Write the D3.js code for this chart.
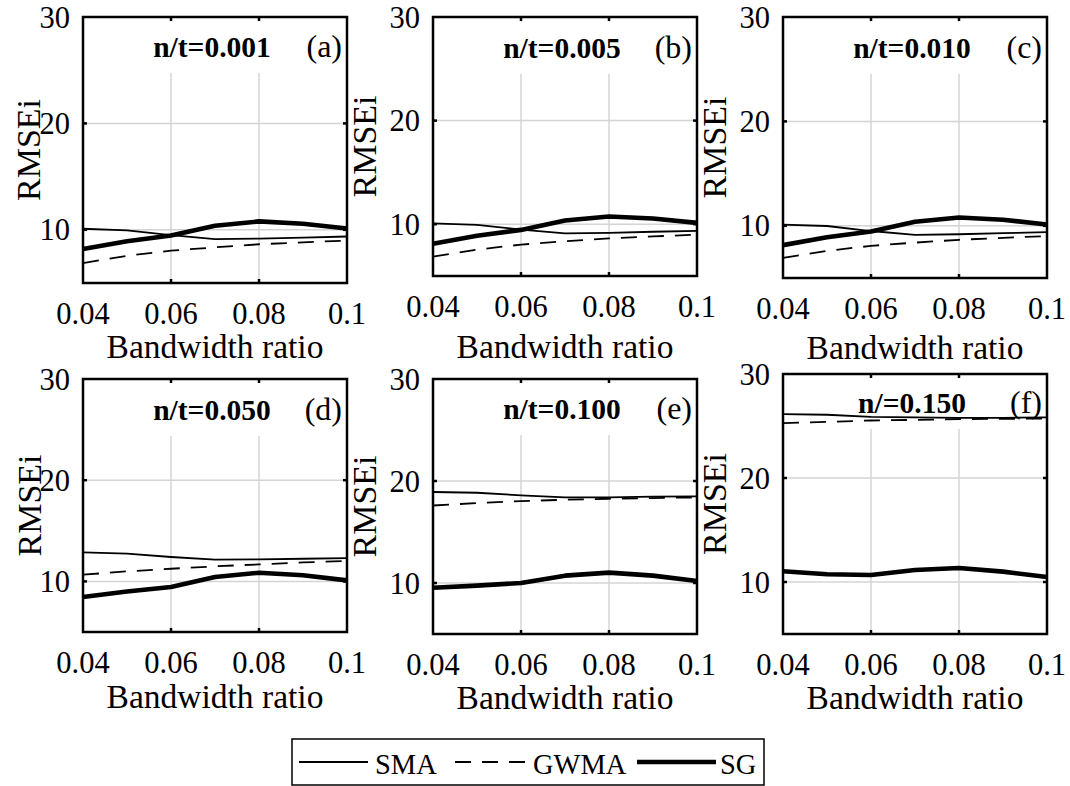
<!DOCTYPE html>
<html>
<head>
<meta charset="utf-8">
<script src="https://cdn.jsdelivr.net/npm/d3@7"></script>
<style>
  html, body { margin: 0; padding: 0; background: #fff; }
  svg { display: block; }
</style>
</head>
<body>
<svg id="chart" width="1070" height="786"></svg>
<script>
// Bandwidth ratios evaluated (x axis)
const bandwidth = [0.04, 0.05, 0.06, 0.07, 0.08, 0.09, 0.10];

// Panel captions
const noiseTitles = ["n/t=0.001", "n/t=0.005", "n/t=0.010", "n/t=0.050", "n/t=0.100", "n/=0.150"];
const panelTags = ["(a)", "(b)", "(c)", "(d)", "(e)", "(f)"];

// RMSEi per panel, one row per panel
const smaValues = [
  [10.10, 9.95, 9.50, 9.12, 9.18, 9.27, 9.37],
  [10.08, 9.93, 9.48, 9.12, 9.17, 9.27, 9.36],
  [10.12, 9.98, 9.50, 9.14, 9.19, 9.29, 9.40],
  [12.87, 12.74, 12.41, 12.15, 12.18, 12.24, 12.30],
  [18.92, 18.85, 18.59, 18.39, 18.39, 18.46, 18.49],
  [26.14, 26.08, 25.88, 25.82, 25.79, 25.79, 25.82]
];
const gwmaValues = [
  [6.87, 7.56, 8.04, 8.35, 8.64, 8.82, 8.99],
  [6.87, 7.55, 8.03, 8.35, 8.63, 8.82, 8.99],
  [6.92, 7.60, 8.08, 8.39, 8.66, 8.85, 9.02],
  [10.66, 10.99, 11.25, 11.49, 11.68, 11.88, 12.01],
  [17.60, 17.84, 18.03, 18.16, 18.26, 18.33, 18.39],
  [25.27, 25.40, 25.53, 25.59, 25.66, 25.69, 25.72]
];
const sgValues = [
  [8.20, 8.92, 9.46, 10.38, 10.79, 10.57, 10.12],
  [8.12, 8.88, 9.45, 10.35, 10.74, 10.55, 10.13],
  [8.15, 8.90, 9.45, 10.38, 10.80, 10.58, 10.12],
  [8.45, 9.00, 9.44, 10.43, 10.86, 10.60, 10.10],
  [9.54, 9.74, 10.00, 10.72, 11.02, 10.72, 10.20],
  [11.03, 10.74, 10.68, 11.16, 11.35, 11.00, 10.48]
];

// Axis ticks
const xTicks = [0.04, 0.06, 0.08, 0.1];
const xTickLabels = ["0.04", "0.06", "0.08", "0.1"];
const yTicks = [10, 20, 30];
const yTickLabels = ["10", "20", "30"];
const xDomain = [0.04, 0.1];
const yDomain = [5, 30];

// Series legend
const seriesNames = ["SMA", "GWMA", "SG"];

// Panel boxes (pixel layout)
const panels = [
  { x0: 83,  y0: 17,  x1: 347,  y1: 283, ylabX: 40,  xlabY: 358, titleDy: 40 },
  { x0: 433, y0: 17,  x1: 697,  y1: 276, ylabX: 376, xlabY: 358, titleDy: 41 },
  { x0: 783, y0: 17,  x1: 1047, y1: 278, ylabX: 726, xlabY: 359, titleDy: 41 },
  { x0: 83,  y0: 379, x1: 347,  y1: 632, ylabX: 41,  xlabY: 708, titleDy: 41 },
  { x0: 433, y0: 379, x1: 697,  y1: 634, ylabX: 376, xlabY: 709, titleDy: 40 },
  { x0: 783, y0: 374, x1: 1047, y1: 634, ylabX: 726, xlabY: 709, titleDy: 39 }
];

const seriesStyle = {
  SMA:  { width: 1.8, dash: null },
  GWMA: { width: 1.8, dash: "16,11" },
  SG:   { width: 4.6, dash: null }
};

const FONT = "'Liberation Serif', 'Times New Roman', Times, 'DejaVu Serif', serif";

const svg = d3.select("#chart")
  .attr("font-family", FONT)
  .style("font-family", FONT);
svg.append("rect").attr("width", 1070).attr("height", 786).attr("fill", "#fff");

function label(sel) {
  return sel.attr("font-family", FONT).attr("fill", "#000");
}

panels.forEach((p, i) => {
  const x = d3.scaleLinear().domain(xDomain).range([p.x0, p.x1]);
  const y = d3.scaleLinear().domain(yDomain).range([p.y1, p.y0]);
  const g = svg.append("g");

  // grid
  const grid = g.append("g").attr("stroke", "#d4d4d4").attr("stroke-width", 1.5);
  grid.selectAll("line.v").data(xTicks.slice(1, -1)).join("line")
    .attr("x1", d => x(d)).attr("x2", d => x(d))
    .attr("y1", p.y0).attr("y2", p.y1);
  grid.selectAll("line.h").data(yTicks.filter(d => d < yDomain[1])).join("line")
    .attr("x1", p.x0).attr("x2", p.x1)
    .attr("y1", d => y(d)).attr("y2", d => y(d));

  const bgLayer = g.append("g");
  const lineLayer = g.append("g");
  const textLayer = g.append("g");

  // data lines
  const line = d3.line().x((d, k) => x(bandwidth[k])).y(d => y(d));
  const rows = { SMA: smaValues[i], GWMA: gwmaValues[i], SG: sgValues[i] };
  seriesNames.forEach(name => {
    const st = seriesStyle[name];
    lineLayer.append("path")
      .datum(rows[name])
      .attr("d", line)
      .attr("fill", "none")
      .attr("stroke", "#000")
      .attr("stroke-width", st.width)
      .attr("stroke-linejoin", "round")
      .attr("stroke-dasharray", st.dash);
  });

  // caption
  const baseY = p.y0 + p.titleDy;
  const title = label(textLayer.append("text"))
    .attr("x", (p.x0 + p.x1) / 2 - 3).attr("y", baseY)
    .attr("text-anchor", "middle")
    .attr("font-weight", "bold").attr("font-size", 29.5)
    .text(noiseTitles[i]);
  label(textLayer.append("text"))
    .attr("x", p.x1 - 5).attr("y", baseY)
    .attr("text-anchor", "end").attr("font-size", 32)
    .text(panelTags[i]);
  const bb = title.node().getBBox();
  bgLayer.append("rect")
    .attr("x", bb.x - 10).attr("y", p.y0)
    .attr("width", p.x1 - (bb.x - 10)).attr("height", baseY + 16 - p.y0)
    .attr("fill", "#fff");

  // frame and inward ticks
  const frame = g.append("g").attr("stroke", "#000").attr("stroke-width", 2.5);
  frame.append("rect")
    .attr("x", p.x0).attr("y", p.y0)
    .attr("width", p.x1 - p.x0).attr("height", p.y1 - p.y0)
    .attr("fill", "none");
  xTicks.slice(1, -1).forEach(t => {
    frame.append("line").attr("x1", x(t)).attr("x2", x(t)).attr("y1", p.y1).attr("y2", p.y1 - 4);
    frame.append("line").attr("x1", x(t)).attr("x2", x(t)).attr("y1", p.y0).attr("y2", p.y0 + 4);
  });
  yTicks.filter(d => d < yDomain[1]).forEach(t => {
    frame.append("line").attr("x1", p.x0).attr("x2", p.x0 + 4).attr("y1", y(t)).attr("y2", y(t));
    frame.append("line").attr("x1", p.x1).attr("x2", p.x1 - 4).attr("y1", y(t)).attr("y2", y(t));
  });

  // tick labels
  label(g.selectAll("text.xt").data(xTicks).join("text"))
    .attr("x", d => x(d)).attr("y", p.y1 + 41)
    .attr("text-anchor", "middle").attr("font-size", 30.5)
    .text((d, k) => xTickLabels[k]);
  label(g.selectAll("text.yt").data(yTicks).join("text"))
    .attr("x", p.x0 - 13).attr("y", d => y(d)).attr("dy", "0.35em")
    .attr("text-anchor", "end").attr("font-size", 30.5)
    .text((d, k) => yTickLabels[k]);

  // axis titles
  label(g.append("text"))
    .attr("x", (p.x0 + p.x1) / 2).attr("y", p.xlabY)
    .attr("text-anchor", "middle").attr("font-size", 33.5)
    .text("Bandwidth ratio");
  label(g.append("text"))
    .attr("transform", `translate(${p.ylabX},${(p.y0 + p.y1) / 2}) rotate(-90)`)
    .attr("text-anchor", "middle").attr("font-size", 34)
    .text("RMSEi");
});

// legend
const legend = svg.append("g");
legend.append("rect")
  .attr("x", 292).attr("y", 739).attr("width", 472).attr("height", 46)
  .attr("fill", "#fff").attr("stroke", "#000").attr("stroke-width", 1.5);
const legendItems = [
  { name: "SMA",  lx0: 299, lx1: 368, tx: 375 },
  { name: "GWMA", lx0: 455, lx1: 525, tx: 533 },
  { name: "SG",   lx0: 637, lx1: 716, tx: 720 }
];
legendItems.forEach(it => {
  const st = seriesStyle[it.name];
  legend.append("line")
    .attr("x1", it.lx0).attr("x2", it.lx1).attr("y1", 762).attr("y2", 762)
    .attr("stroke", "#000").attr("stroke-width", st.width)
    .attr("stroke-dasharray", st.dash);
  label(legend.append("text"))
    .attr("x", it.tx).attr("y", 774).attr("font-size", 28.5)
    .text(it.name);
});
</script>
</body>
</html>
